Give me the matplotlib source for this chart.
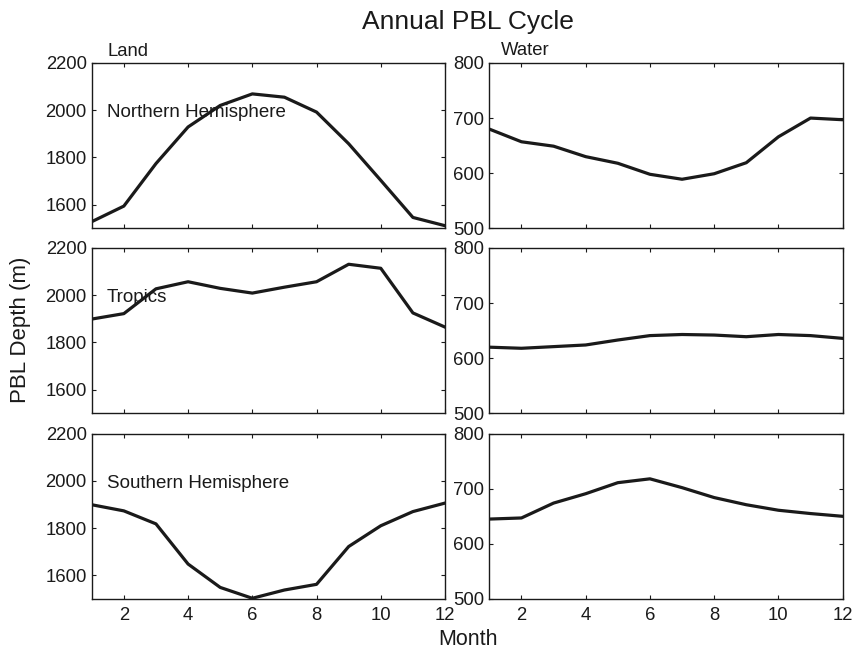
import numpy as np
import matplotlib
matplotlib.use("Agg")
import matplotlib.pyplot as plt

plt.rcParams['font.family'] = ['Liberation Sans', 'DejaVu Sans']

months = np.arange(1, 13)

land_nh = [1528, 1594, 1774, 1929, 2020, 2069, 2055, 1992, 1858, 1703, 1546, 1511]
land_tr = [1899, 1922, 2027, 2057, 2029, 2009, 2034, 2057, 2131, 2114, 1925, 1865]
land_sh = [1899, 1873, 1818, 1648, 1549, 1503, 1538, 1562, 1722, 1810, 1870, 1906]

water_nh = [680, 657, 649, 630, 618, 598, 589, 599, 619, 666, 700, 697]
water_tr = [620, 618, 621, 624, 633, 641, 643, 642, 639, 643, 641, 636]
water_sh = [645, 647, 674, 691, 711, 718, 702, 684, 671, 661, 655, 650]

regions = ['Northern Hemisphere', 'Tropics', 'Southern Hemisphere']
land = [land_nh, land_tr, land_sh]
water = [water_nh, water_tr, water_sh]

xticks = [2, 4, 6, 8, 10, 12]
land_yticks = [1600, 1800, 2000, 2200]
water_yticks = [500, 600, 700, 800]

line_col = '#1a1a1a'

fig = plt.figure(figsize=(8.54, 6.51), dpi=100)

lefts = [0.1074, 0.5730]
width = 0.4137
bottoms = [0.6493, 0.3651, 0.0799]
height = 0.2540


def style(ax, yticks, ylim, bottom_row):
    ax.set_xlim(1, 12)
    ax.set_ylim(*ylim)
    ax.set_xticks(xticks)
    ax.set_yticks(yticks)
    ax.tick_params(direction='in', length=3, width=0.8, top=True, right=True,
                   labelsize=13.3, pad=3.5, colors='#1a1a1a')
    ax.tick_params(axis='x', pad=5.5)
    if not bottom_row:
        ax.set_xticklabels([])
    for s in ax.spines.values():
        s.set_linewidth(1.0)
        s.set_color('#1a1a1a')


for i in range(3):
    axl = fig.add_axes([lefts[0], bottoms[i], width, height])
    axl.plot(months, land[i], color=line_col, lw=2.3)
    style(axl, land_yticks, (1500, 2200), i == 2)
    axl.text(1.476, 1970, regions[i], fontsize=13.5, va='baseline', ha='left',
             color='#1a1a1a')

    axw = fig.add_axes([lefts[1], bottoms[i], width, height])
    axw.plot(months, water[i], color=line_col, lw=2.3)
    style(axw, water_yticks, (500, 800), i == 2)

    if i == 0:
        axl.text(0.044, 1.04, 'Land', transform=axl.transAxes, fontsize=13.3,
                 ha='left', va='baseline', color='#1a1a1a')
        axw.text(0.033, 1.05, 'Water', transform=axw.transAxes, fontsize=13.3,
                 ha='left', va='baseline', color='#1a1a1a')

fig.text(0.548, 0.955, 'Annual PBL Cycle', fontsize=19, ha='center',
         va='baseline', color='#1a1a1a')
fig.text(0.024, 0.493, 'PBL Depth (m)', fontsize=16, rotation=90,
         ha='center', va='center', color='#1a1a1a')
fig.text(0.548, 0.017, 'Month', fontsize=15.5, ha='center', va='center',
         color='#1a1a1a')

fig.savefig('out.png', dpi=100)
